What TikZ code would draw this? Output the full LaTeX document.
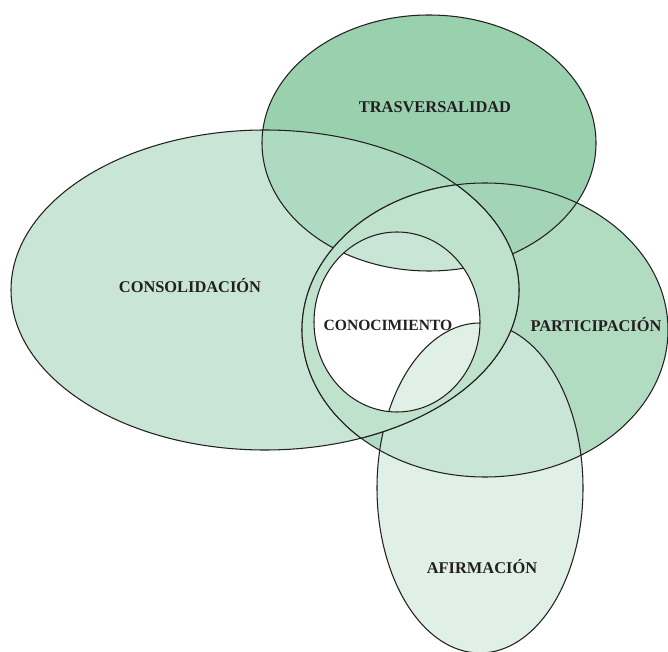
\documentclass[tikz,border=0pt]{standalone}
\usepackage{fontspec}
\setmainfont{Liberation Serif}
\usepackage{xcolor}

\definecolor{verdeA}{HTML}{C9E5D5}
\definecolor{verdeB}{HTML}{99D1AF}
\definecolor{verdeD}{HTML}{B1DCC2}
\definecolor{verdeE}{HTML}{E0F0E6}
\definecolor{verdeAB}{HTML}{ADDAC0}
\definecolor{verdeBD}{HTML}{A4D4B6}
\definecolor{verdeAnillo}{HTML}{BEE2CC}
\definecolor{contorno}{HTML}{231F20}

\begin{document}
\begin{tikzpicture}[
    x=0.03cm, y=-0.03cm,
    linea/.style={draw=contorno, line width=0.9pt},
    etiqueta/.style={
        font=\bfseries\fontsize{14}{16}\selectfont,
        text=contorno, anchor=base, inner sep=0pt
    },
    % --- Formas (centro y radios en px de la imagen) ---
    consolidacion/.style={insert path={(265,290) ellipse [x radius=254, y radius=160]}},
    trasversal/.style={insert path={(429,143) ellipse [x radius=167, y radius=128]}},
    participacion/.style={insert path={(485,330) ellipse [x radius=183, y radius=147]}},
    afirmacion/.style={insert path={(480,488) ellipse [x radius=103, y radius=165]}},
    conocimiento/.style={insert path={(397,322) ellipse [x radius=83, y radius=90]}}
]
\useasboundingbox (0,0) rectangle (668,652);

% --- Rellenos ---
\fill[verdeB, trasversal];
\fill[verdeD, participacion];
\begin{scope}
    \clip[trasversal];
    \fill[verdeBD, participacion];
\end{scope}
\fill[verdeA, consolidacion];
\begin{scope}
    \clip[consolidacion];
    \fill[verdeAB, trasversal];
\end{scope}
\fill[verdeE, afirmacion];
\begin{scope}
    \clip[participacion];
    \fill[verdeA, afirmacion];
\end{scope}

% --- Contornos ---
\path[linea, trasversal];
\path[linea, consolidacion];
\path[linea, participacion];
\path[linea, afirmacion];

% --- Anillo (consolidacion y participacion) encima ---
\begin{scope}
    \clip[consolidacion];
    \fill[verdeAnillo, participacion];
    \path[linea, participacion];
\end{scope}
\begin{scope}
    \clip[participacion];
    \path[linea, consolidacion];
\end{scope}

% --- Circulo central ---
\fill[white, conocimiento];
\begin{scope}
    \clip[conocimiento];
    \fill[verdeA, trasversal];
    \fill[verdeE, afirmacion];
    \path[linea, trasversal];
    \path[linea, afirmacion];
\end{scope}
\path[linea, conocimiento];

% --- Textos ---
\node[etiqueta] (trasv) at (435,113) {TRASVERSALIDAD};
\node[etiqueta] (consol) at (190,292) {CONSOLIDACIÓN};
\node[etiqueta, font=\bfseries\fontsize{13.3}{15}\selectfont] (conoc) at (388,330) {CONOCIMIENTO};
\node[etiqueta] (partic) at (596,332) {PARTICIPACIÓN};
\node[etiqueta] (afirm) at (482,573) {AFIRMACIÓN};

\end{tikzpicture}
\end{document}
